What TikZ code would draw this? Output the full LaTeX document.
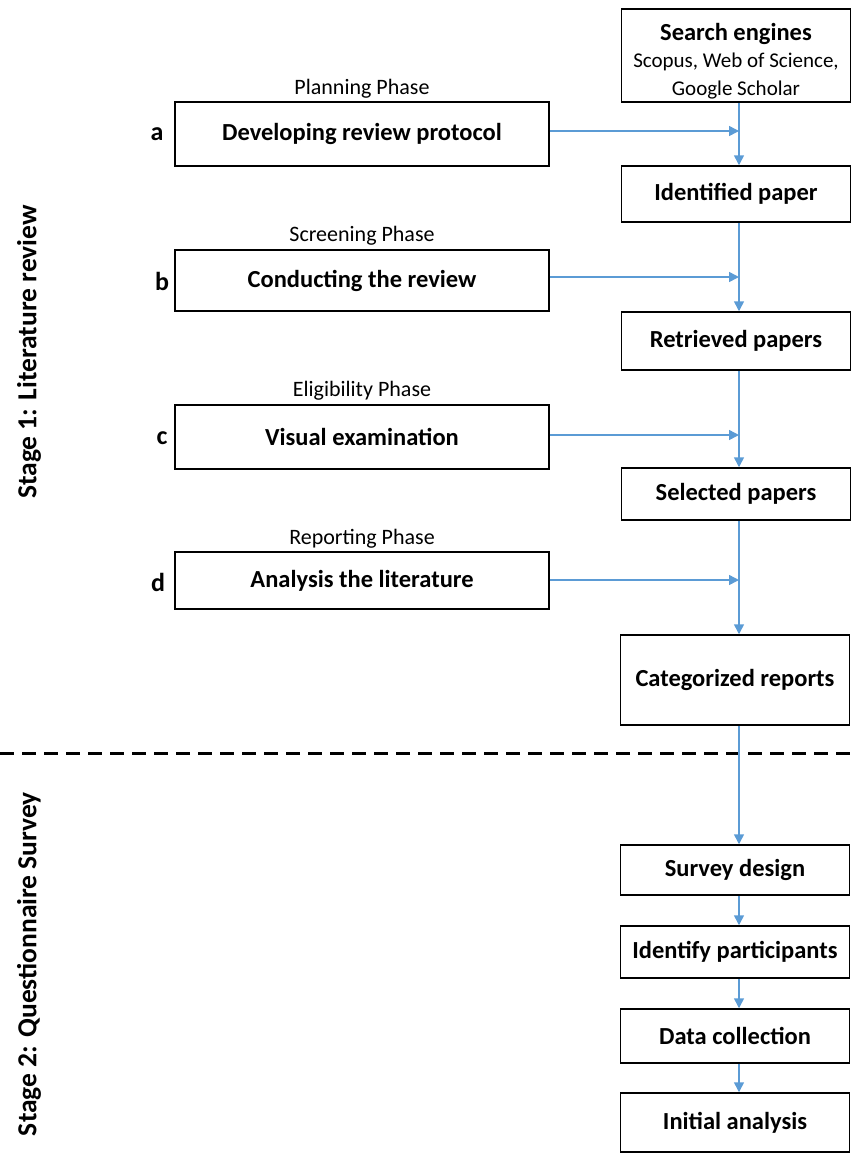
\documentclass[tikz,border=0pt]{standalone}
\usepackage{fontspec}
\setmainfont{Carlito}
\usetikzlibrary{arrows.meta}
\definecolor{arrowblue}{RGB}{91,155,213}
\tikzset{
  box/.style={draw=black, line width=1.5pt, fill=white, inner sep=2pt, align=center,
    font=\fontsize{24.5}{28}\selectfont\bfseries},
  rbox/.style={box, minimum width=229pt},
  lbox/.style={box, minimum width=374pt},
  phase/.style={font=\fontsize{22}{26}\selectfont},
  letter/.style={font=\fontsize{26}{30}\selectfont\bfseries},
  stage/.style={font=\fontsize{27.5}{32}\selectfont\bfseries, rotate=90},
  arr/.style={draw=arrowblue, line width=1.5pt, -{Triangle[length=10pt,width=10pt]}},
}
\begin{document}
\begin{tikzpicture}[x=1pt,y=-1pt]
\useasboundingbox (0,0) rectangle (855,1163);
% right column
\node[rbox, minimum height=93pt, inner sep=0pt] (search) at (736,55.5) {\rule{0pt}{29pt}Search engines\\[-1pt]{\fontsize{21}{28.5}\selectfont\mdseries Scopus, Web of Science,}\\{\fontsize{21}{28.5}\selectfont\mdseries Google Scholar}};
\node[rbox, minimum height=56pt] (ident) at (736,194) {Identified paper};
\node[rbox, minimum height=58pt] (retr) at (736,341) {Retrieved papers};
\node[rbox, minimum height=52pt] (sel) at (736,494) {Selected papers};
\node[rbox, minimum height=90pt] (cat) at (735,680) {Categorized reports};
\node[rbox, minimum height=50pt] (surv) at (735,870) {Survey design};
\node[rbox, minimum height=52pt] (idp) at (735,952) {Identify participants};
\node[rbox, minimum height=54pt] (data) at (735,1036) {Data collection};
\node[rbox, minimum height=59pt] (init) at (735,1122.5) {Initial analysis};
% left column
\node[lbox, minimum height=64pt] (dev) at (362,134) {Developing review protocol};
\node[lbox, minimum height=61pt] (cond) at (362,280.5) {Conducting the review};
\node[lbox, minimum height=64pt] (vis) at (362,437) {Visual examination};
\node[lbox, minimum height=57pt] (ana) at (362,580.5) {Analysis the literature};
% phase labels
\node[phase] (p1) at (362,89) {Planning Phase};
\node[phase] (p2) at (362,236) {Screening Phase};
\node[phase] (p3) at (362,391) {Eligibility Phase};
\node[phase] (p4) at (362,539) {Reporting Phase};
% letters
\node[letter] (la) at (157,134) {a};
\node[letter] (lb) at (162,281) {b};
\node[letter] (lc) at (162,438) {c};
\node[letter] (ld) at (158,582) {d};
% stage labels
\node[stage] (s1) at (29,352) {Stage 1: Literature review};
\node[stage] (s2) at (29,964) {Stage 2: Questionnaire Survey};
% dashed separator
\draw[black, line width=3pt, dash pattern=on 14pt off 8pt] (0,753) -- (855,753);
% vertical line x
\coordinate (vx) at (739,0);
\draw[arr] (search.south -| vx) -- (ident.north -| vx);
\draw[arr] (ident.south -| vx) -- (retr.north -| vx);
\draw[arr] (retr.south -| vx) -- (sel.north -| vx);
\draw[arr] (sel.south -| vx) -- (cat.north -| vx);
\draw[arr] (cat.south -| vx) -- (surv.north -| vx);
\draw[arr] (surv.south -| vx) -- (idp.north -| vx);
\draw[arr] (idp.south -| vx) -- (data.north -| vx);
\draw[arr] (data.south -| vx) -- (init.north -| vx);
% horizontal arrows
\coordinate (ha) at (739,131);
\coordinate (hb) at (739,277);
\coordinate (hc) at (739,435);
\coordinate (hd) at (739,580);
\draw[arr] (dev.east |- ha) -- (ha);
\draw[arr] (cond.east |- hb) -- (hb);
\draw[arr] (vis.east |- hc) -- (hc);
\draw[arr] (ana.east |- hd) -- (hd);
\end{tikzpicture}
\end{document}
